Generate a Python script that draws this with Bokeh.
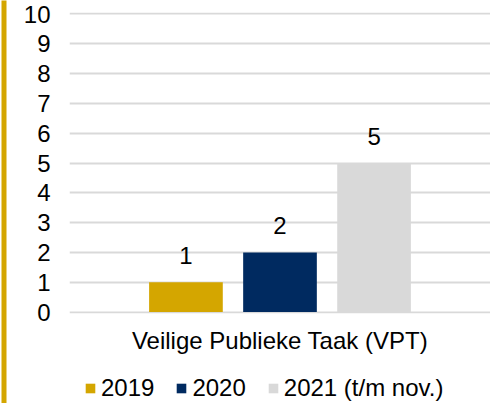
from bokeh.plotting import figure
from bokeh.layouts import row, column
from bokeh.models import (ColumnDataSource, FactorRange, Range1d, Legend, LegendItem,
                          FixedTicker)
from bokeh.transform import dodge
from bokeh.core.properties import value
from bokeh.embed import file_html
from bokeh.resources import INLINE

category = ["Veilige Publieke Taak (VPT)"]
series_names = ["2019", "2020", "2021 (t/m nov.)"]
values_2019 = [1]
values_2020 = [2]
values_2021 = [5]
y_ticks = [0, 1, 2, 3, 4, 5, 6, 7, 8, 9, 10]

colors = ["#D4A600", "#002A60", "#D9D9D9"]
offsets = [-0.2234, 0.0, 0.2234]
FONT = "Liberation Sans"
FS = "24px"
GOLD = "#D4A600"

# gold accent strip on the left
strip = figure(width=7, height=403, output_backend="svg", toolbar_location=None,
               x_axis_location=None, y_axis_location=None,
               min_border_left=1, min_border_right=1, min_border_top=0, min_border_bottom=0)
strip.background_fill_color = GOLD
strip.border_fill_color = "white"
strip.outline_line_color = None
strip.grid.visible = False

# main chart
p = figure(width=483, height=357, x_range=FactorRange(*category),
           y_range=Range1d(-0.05, 10.05), output_backend="svg", toolbar_location=None,
           min_border_left=62, min_border_right=0, min_border_top=12,
           min_border_bottom=44)
p.outline_line_color = None
p.background_fill_color = "white"
p.border_fill_color = "white"

p.xgrid.grid_line_color = None
p.ygrid.grid_line_color = "#D9D9D9"
p.ygrid.grid_line_width = 2
p.ygrid.ticker = FixedTicker(ticks=y_ticks)

p.yaxis.ticker = FixedTicker(ticks=y_ticks)
p.yaxis.axis_line_color = None
p.yaxis.major_tick_line_color = None
p.yaxis.minor_tick_line_color = None
p.yaxis.major_tick_out = 0
p.yaxis.major_tick_in = 0
p.yaxis.major_label_standoff = 19
p.yaxis.major_label_text_font = FONT
p.yaxis.major_label_text_font_size = FS
p.yaxis.major_label_text_color = "#000000"

p.xaxis.axis_line_color = None
p.xaxis.major_tick_line_color = None
p.xaxis.major_tick_out = 0
p.xaxis.major_tick_in = 0
p.xaxis.major_label_standoff = 13
p.xaxis.major_label_text_font = FONT
p.xaxis.major_label_text_font_size = FS
p.xaxis.major_label_text_color = "#000000"

# legend panel (holds hidden twins of the bar renderers for the swatches)
lg = figure(width=483, height=46, x_range=FactorRange(*category), y_range=Range1d(0, 10),
            output_backend="svg", toolbar_location=None,
            x_axis_location=None, y_axis_location=None,
            min_border_left=0, min_border_right=0, min_border_top=0, min_border_bottom=0)
lg.outline_line_color = None
lg.grid.visible = False
lg.background_fill_color = "white"
lg.border_fill_color = "white"

series_vals = [values_2019, values_2020, values_2021]
items = []
for name, vals, col, off in zip(series_names, series_vals, colors, offsets):
    src = ColumnDataSource(dict(cat=category, v=vals, lbl=[str(x) for x in vals]))
    p.vbar(x=dodge("cat", off, range=p.x_range), top="v", width=0.175, source=src,
           fill_color=col, line_color=None)
    p.text(x=dodge("cat", off, range=p.x_range), y="v", text="lbl", source=src,
           text_align="center", text_baseline="alphabetic", y_offset=-27,
           text_font=value(FONT), text_font_size=FS, text_color="#000000")
    twin = lg.vbar(x=dodge("cat", off, range=lg.x_range), top="v", width=0.175, source=src,
                   fill_color=col, line_color=None, visible=False)
    items.append(LegendItem(label=name, renderers=[twin]))

legend = Legend(items=items, orientation="horizontal", location=(15, 1),
                glyph_width=12, glyph_height=12, label_standoff=5, spacing=21,
                padding=0, margin=0, border_line_alpha=0, background_fill_alpha=0,
                label_text_font=FONT, label_text_font_size=FS, label_text_color="#000000")
lg.add_layout(legend, "center")

layout = row(strip, column(p, lg, spacing=0), spacing=0)

open("out.html", "w").write(file_html(layout, INLINE))
